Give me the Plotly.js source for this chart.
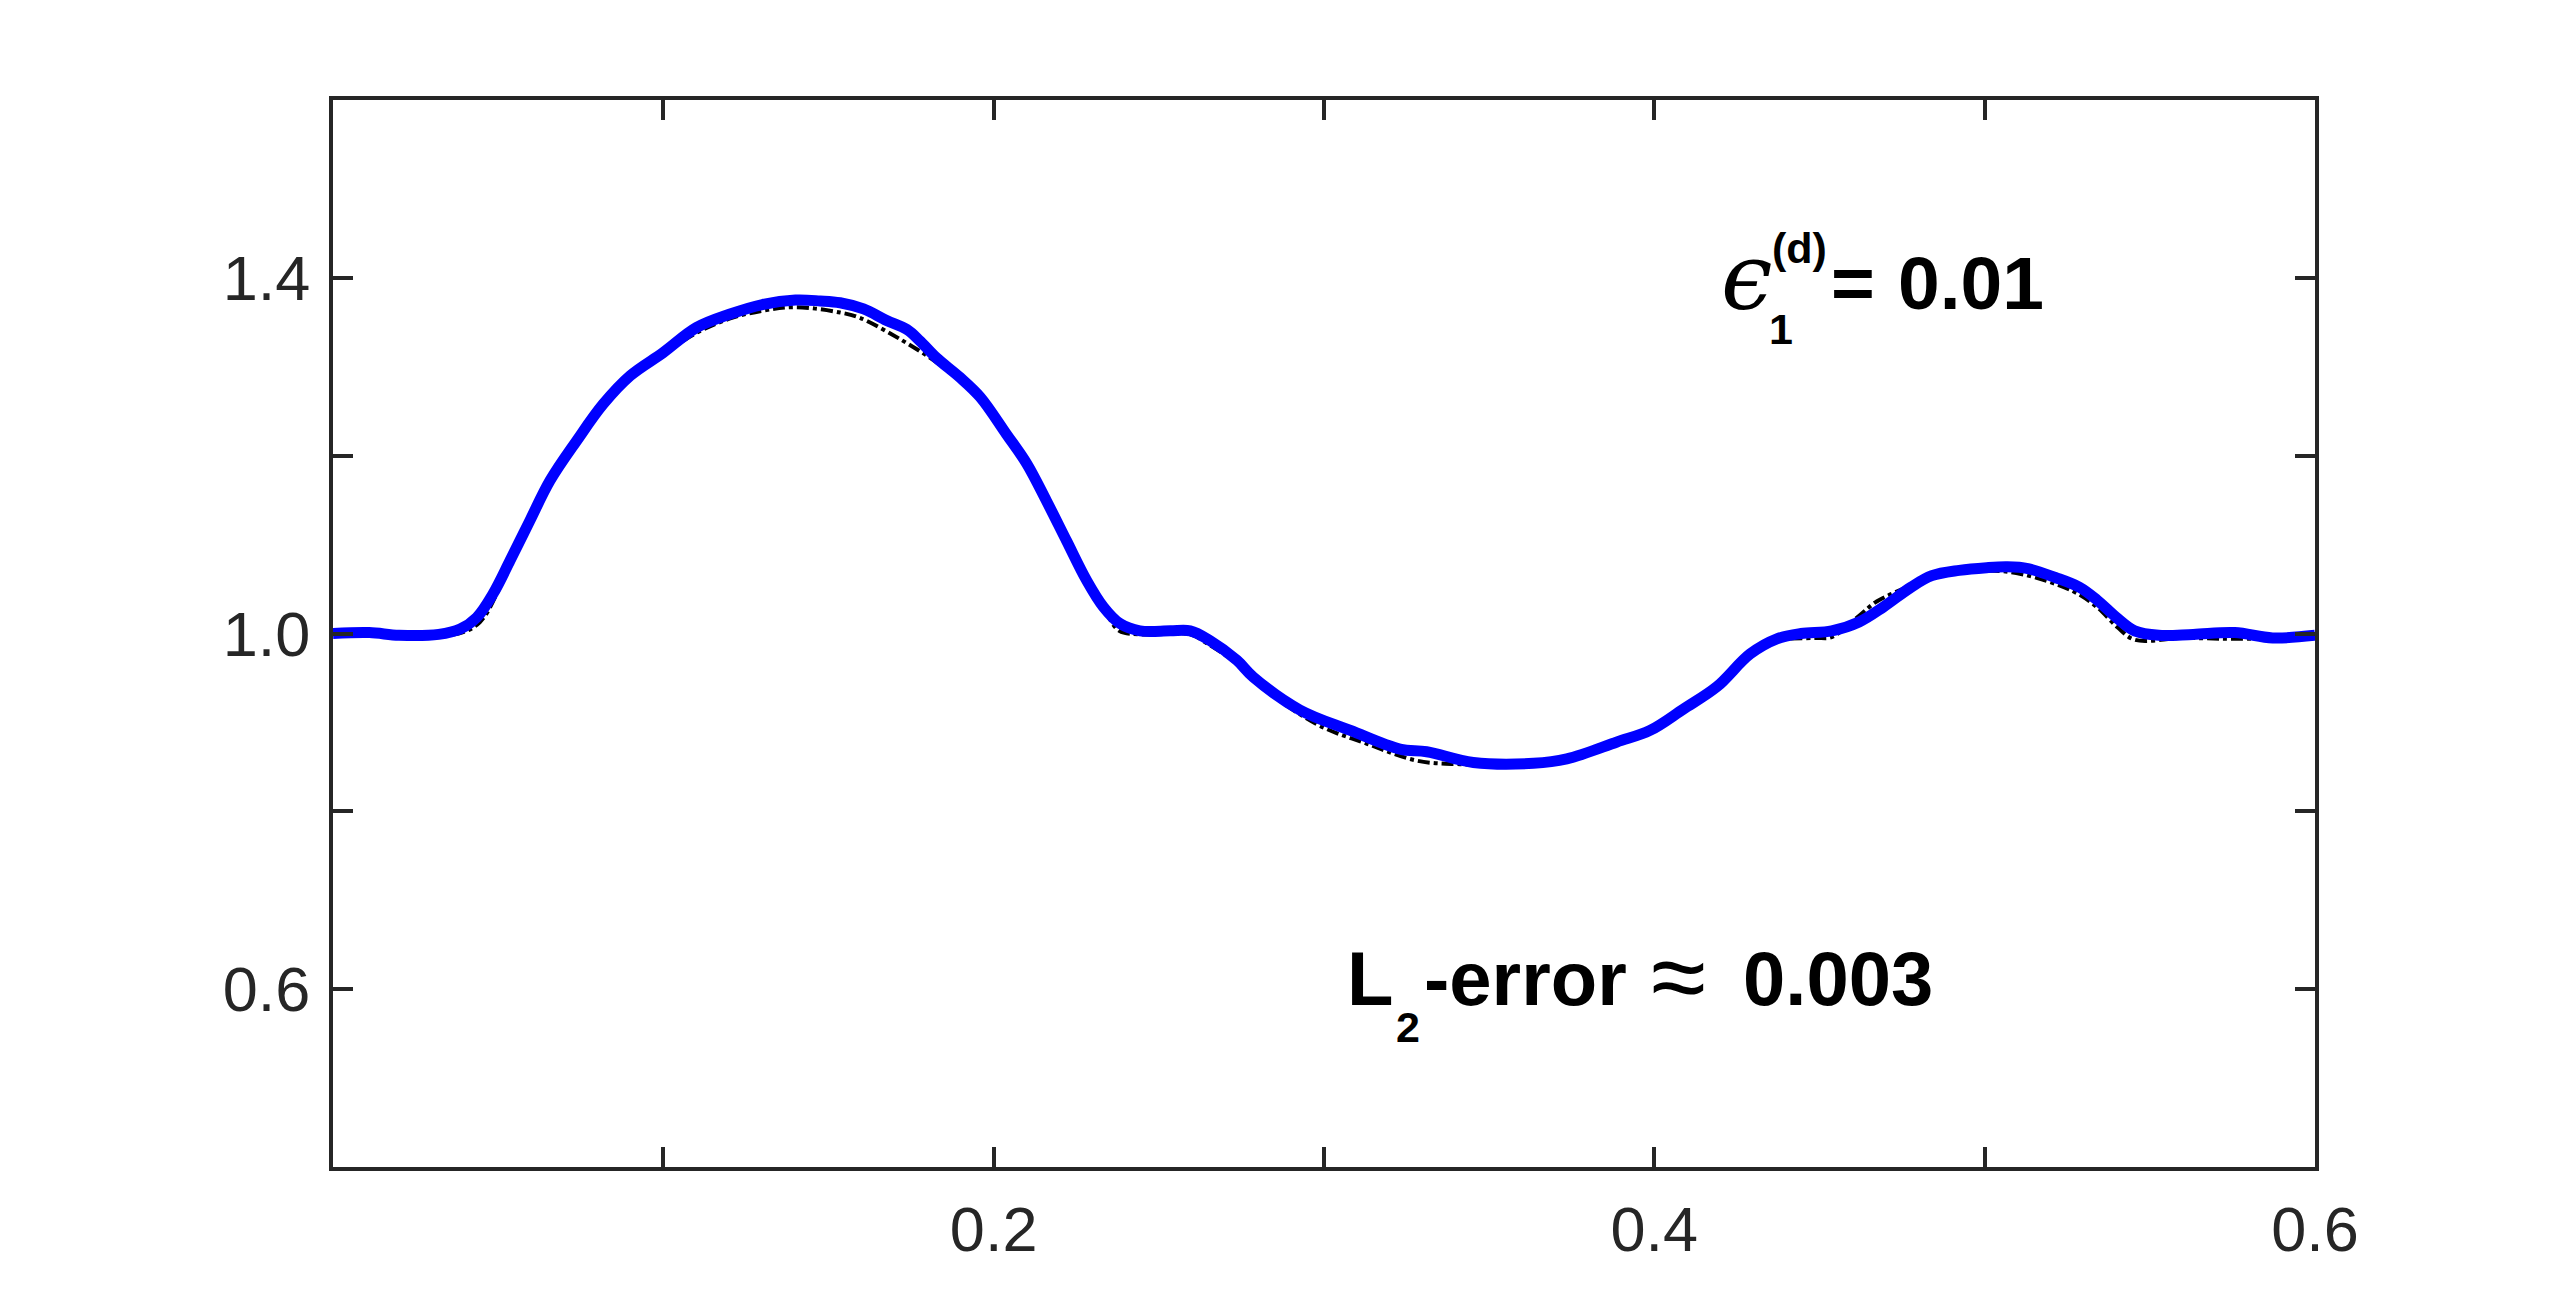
<!DOCTYPE html>
<html>
<head>
<meta charset="utf-8">
<script src="https://cdn.plot.ly/plotly-3.0.1.min.js"></script>
<style>html,body{margin:0;padding:0;background:#fff;}#chart{width:2560px;height:1314px;}</style>
</head>
<body>
<div id="chart"></div>
<script>
// Approximate (blue) solution
const approxX = [0.000,0.011,0.020,0.032,0.0385,0.0435,0.0485,0.0536,0.0596,0.0657,0.0738,0.0818,0.090,0.100,0.110,0.120,0.130,0.140,0.1475,0.1535,0.1606,0.1676,0.1737,0.1777,0.1827,0.1898,0.1959,0.2039,0.2100,0.2160,0.2221,0.2281,0.2332,0.2383,0.2443,0.2534,0.2595,0.2655,0.2736,0.2786,0.2927,0.3080,0.3230,0.3311,0.3452,0.3634,0.3735,0.3887,0.3987,0.4088,0.4189,0.4290,0.4371,0.4444,0.4537,0.4620,0.4694,0.4777,0.4840,0.4923,0.5006,0.5069,0.5131,0.5214,0.5287,0.5339,0.5402,0.5454,0.5527,0.5631,0.5757,0.5872,0.6000];
const approxY = [1.000,1.001,0.998,0.999,1.005,1.018,1.045,1.082,1.127,1.172,1.217,1.258,1.290,1.316,1.344,1.359,1.370,1.375,1.374,1.372,1.365,1.352,1.342,1.329,1.310,1.288,1.266,1.224,1.191,1.149,1.104,1.060,1.030,1.011,1.003,1.003,1.003,0.992,0.970,0.951,0.914,0.891,0.870,0.867,0.855,0.854,0.859,0.878,0.891,0.915,0.940,0.977,0.994,1.000,1.003,1.013,1.030,1.052,1.065,1.071,1.074,1.075,1.073,1.063,1.052,1.038,1.017,1.003,0.998,0.999,1.001,0.995,0.998];

// Exact (black dash-dot) solution
const exactX = [0.000,0.038,0.0445,0.050,0.0536,0.0596,0.0657,0.0738,0.0818,0.090,0.100,0.110,0.120,0.130,0.140,0.1535,0.1595,0.1717,0.1827,0.1898,0.1959,0.2039,0.2100,0.2160,0.2221,0.2281,0.2342,0.2380,0.2443,0.2595,0.2645,0.2736,0.2786,0.2978,0.3130,0.3281,0.3412,0.3634,0.3735,0.3887,0.3987,0.4088,0.4189,0.4290,0.4371,0.4485,0.4537,0.4620,0.4673,0.4777,0.4840,0.4923,0.5006,0.5110,0.5265,0.5339,0.5402,0.5454,0.5600,0.5750,0.6000];
const exactY = [1.000,1.000,1.013,1.048,1.080,1.126,1.171,1.216,1.256,1.288,1.314,1.338,1.354,1.363,1.367,1.361,1.355,1.331,1.305,1.284,1.262,1.222,1.189,1.147,1.102,1.058,1.022,1.003,0.999,0.999,0.989,0.966,0.947,0.898,0.876,0.857,0.853,0.853,0.858,0.877,0.890,0.914,0.939,0.975,0.992,0.995,0.996,1.020,1.036,1.054,1.064,1.069,1.071,1.067,1.048,1.030,1.007,0.993,0.995,0.994,0.996];

// Axis ticks
const xTickVals = [0,0.1,0.2,0.3,0.4,0.5,0.6];
const xTickText = ['','','0.2','','0.4','','0.6'];
const yTickVals = [0.4,0.6,0.8,1.0,1.2,1.4,1.6];
const yTickText = ['','0.6','','1.0','','1.4',''];

// Annotation texts
const epsText = 'ϵ';
const epsSub = '1';
const epsSup = '(d)';
const epsEq = '=';
const epsVal = '0.01';
const errL = 'L';
const errSub = '2';
const errWord = '-error';
const errApprox = '≈';
const errVal = '0.003';

const axisColor = '#262626';
const tickFont = {family: 'Liberation Sans, Arial, sans-serif', size: 63, color: axisColor};
const boldFam = 'Liberation Sans, Arial, sans-serif';

function ann(text, x, y, size, opts) {
  opts = opts || {};
  return {
    text: text, x: x, y: y, xref: 'x', yref: 'y',
    xanchor: 'left', yanchor: 'middle', showarrow: false,
    font: {family: opts.family || boldFam, size: size, color: '#000', weight: opts.weight || 'bold', style: opts.style || 'normal'}
  };
}

const traces = [
  {x: exactX, y: exactY, type: 'scatter', mode: 'lines',
   line: {color: '#000000', width: 4, dash: 'dashdot', shape: 'spline', smoothing: 1.0}, hoverinfo: 'skip'},
  {x: approxX, y: approxY, type: 'scatter', mode: 'lines',
   line: {color: '#0000FF', width: 11, shape: 'spline', smoothing: 1.0}, hoverinfo: 'skip'}
];

const axisCommon = {
  showgrid: false, zeroline: false, showline: true, linecolor: axisColor, linewidth: 4,
  mirror: 'ticks', ticks: 'inside', ticklen: 20, tickwidth: 4, tickcolor: axisColor,
  tickfont: tickFont, tickmode: 'array', fixedrange: true
};

const layout = {
  width: 2560, height: 1314,
  margin: {l: 333, r: 245, t: 100, b: 147, pad: 0},
  paper_bgcolor: '#ffffff', plot_bgcolor: '#ffffff',
  showlegend: false,
  xaxis: Object.assign({}, axisCommon, {range: [0, 0.6], tickvals: xTickVals, ticktext: xTickText, ticklabelstandoff: 4}),
  yaxis: Object.assign({}, axisCommon, {range: [0.4, 1.6], tickvals: yTickVals, ticktext: yTickText, ticklabelstandoff: 6}),
  annotations: [
    ann(epsText, 0.4195, 1.4000, 92, {family: 'DejaVu Serif, serif', weight: 'normal', style: 'italic'}),
    ann(epsSub, 0.4340, 1.3427, 43),
    ann(epsSup, 0.4350, 1.4340, 43),
    ann(epsEq, 0.4529, 1.3944, 75),
    ann(epsVal, 0.4732, 1.3944, 75),
    ann(errL, 0.3064, 0.6116, 76),
    ann(errSub, 0.3212, 0.5573, 43),
    ann(errWord, 0.3298, 0.6116, 76),
    ann(errApprox, 0.3984, 0.6150, 100, {weight: 'normal'}),
    ann(errVal, 0.4263, 0.6116, 76)
  ]
};

Plotly.newPlot('chart', traces, layout, {displayModeBar: false, staticPlot: true});
</script>
</body>
</html>
